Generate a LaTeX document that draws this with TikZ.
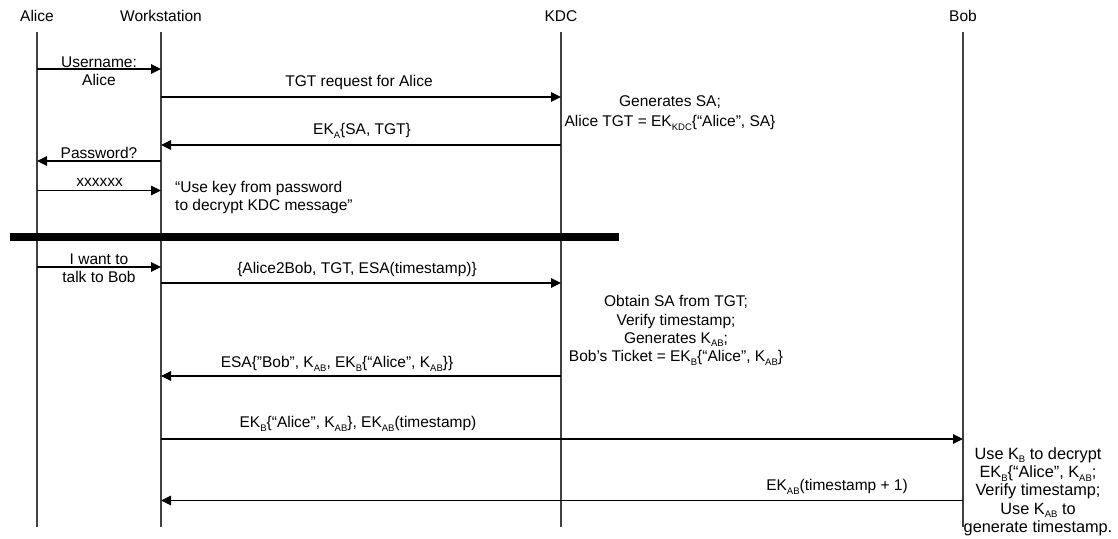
\documentclass[tikz,border=0pt]{standalone}
\usepackage{fontspec}
\setmainfont{Liberation Sans}
\usetikzlibrary{arrows.meta}
% small lowered index used in key names (K_AB, EK_KDC, ...)
\newcommand\kidx[1]{\raisebox{-0.22em}{\fontsize{9.5}{9.5}\selectfont #1}}
\begin{document}
\begin{tikzpicture}[x=1pt,y=-1pt,
  every node/.style={font=\fontsize{15.5}{18.3}\selectfont, inner sep=0pt},
  actor/.style={anchor=center},
  lifeline/.style={draw=black!75, line width=1.4pt},
  msg/.style={draw=black, line width=1.1pt, -{Triangle[length=10pt,width=9.5pt]}},
  lbl/.style={anchor=center, align=center},
  note/.style={anchor=center, align=center},
  bar/.style={fill=black, draw=none}]
\useasboundingbox (0,0) rectangle (1118,538);

% participants
\node[actor] (alice) at (37,16)  {Alice};
\node[actor] (ws)    at (161,16) {Workstation};
\node[actor] (kdc)   at (561,16) {KDC};
\node[actor] (bob)   at (963,16) {Bob};

% lifelines
\coordinate (top) at (0,32);
\coordinate (bot) at (0,527);
\foreach \p in {alice,ws,kdc,bob}
  \draw[lifeline] (\p |- top) -- (\p |- bot);

% message heights
\coordinate (y1) at (0,69);
\coordinate (y2) at (0,97);
\coordinate (y3) at (0,145);
\coordinate (y4) at (0,161);
\coordinate (y5) at (0,190.5);
\coordinate (y6) at (0,267);
\coordinate (y7) at (0,283);
\coordinate (y8) at (0,376);
\coordinate (y9) at (0,439);
\coordinate (y10) at (0,500.5);

% login phase
\draw[msg] (alice |- y1) -- (ws |- y1);
\node[lbl] (l1) at (99,71) {Username:\\Alice};
\draw[msg] (ws |- y2) -- (kdc |- y2);
\node[lbl] (l2) at (359,82) {TGT request for Alice};
\node[note] (n1) at (670,113) {Generates SA;\\[1.7pt]Alice TGT = EK\kidx{KDC}\{“Alice”, SA\}};
\draw[msg] (kdc |- y3) -- (ws |- y3);
\node[lbl] (l3) at (362,131) {EK\kidx{A}\{SA, TGT\}};
\draw[msg] (ws |- y4) -- (alice |- y4);
\node[lbl] (l4) at (99,152.5) {Password?};
\draw[msg] (alice |- y5) -- (ws |- y5);
\node[lbl] (l5) at (99.5,182) {xxxxxx};
\node[anchor=west, align=left] (n2) at (175,197.5) {“Use key from password\\to decrypt KDC message”};

% phase separator
\path[bar] (10,233) rectangle (619,241);

% ticket phase
\draw[msg] (alice |- y6) -- (ws |- y6);
\node[lbl] (l6) at (99,268.5) {I want to\\talk to Bob};
\draw[msg] (ws |- y7) -- (kdc |- y7);
\node[lbl] (l7) at (357,269) {\{Alice2Bob, TGT, ESA(timestamp)\}};
\node[note] (n3) at (676,330.5) {Obtain SA from TGT;\\Verify timestamp;\\Generates K\kidx{AB};\\Bob’s Ticket = EK\kidx{B}\{“Alice”, K\kidx{AB}\}};
\draw[msg] (kdc |- y8) -- (ws |- y8);
\node[lbl] (l8) at (337,364) {ESA\{”Bob”, K\kidx{AB}, EK\kidx{B}\{“Alice”, K\kidx{AB}\}\}};
\draw[msg] (ws |- y9) -- (bob |- y9);
\node[lbl] (l9) at (358,424) {EK\kidx{B}\{“Alice”, K\kidx{AB}\}, EK\kidx{AB}(timestamp)};
\draw[msg] (bob |- y10) -- (ws |- y10);
\node[lbl] (l10) at (837,487) {EK\kidx{AB}(timestamp + 1)};
\node[note, font=\fontsize{16.3}{18.3}\selectfont] (n4) at (1038,491.5) {Use K\kidx{B} to decrypt\\EK\kidx{B}\{“Alice”, K\kidx{AB};\\Verify timestamp;\\Use K\kidx{AB} to\\generate timestamp.};
\end{tikzpicture}
\end{document}
